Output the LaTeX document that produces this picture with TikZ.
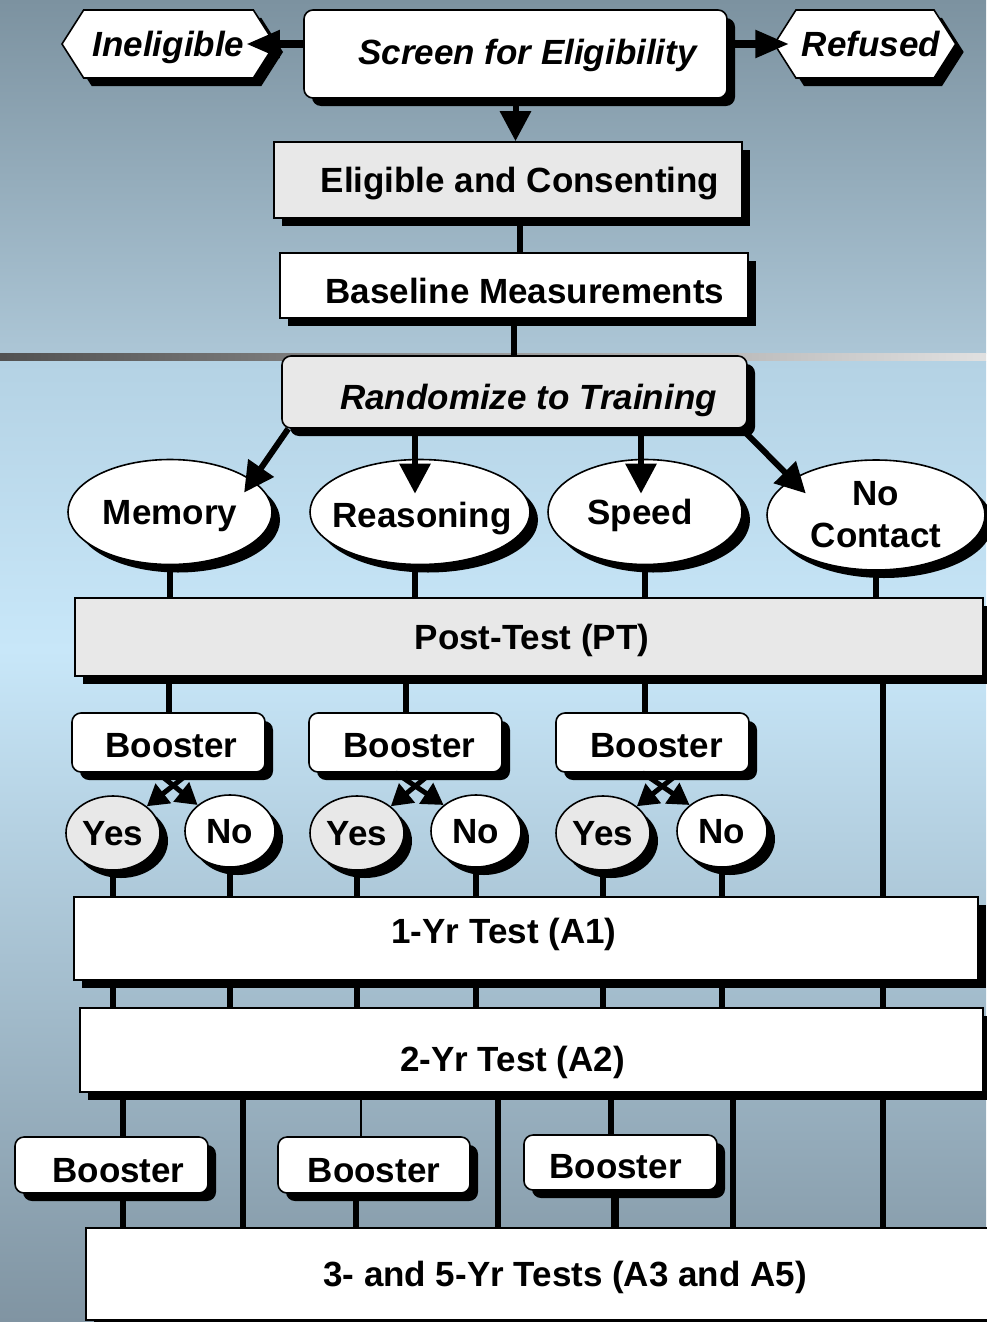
\documentclass[tikz,border=0pt]{standalone}
\usepackage{fontspec}
\setmainfont{Liberation Sans}
\usetikzlibrary{arrows.meta,shapes.geometric,shapes.symbols,shadows}

\definecolor{topsky}{RGB}{124,146,160}
\definecolor{midsky}{RGB}{172,198,214}
\definecolor{lowsky}{RGB}{180,210,228}
\definecolor{palesky}{RGB}{200,231,249}
\definecolor{dusk}{RGB}{172,200,218}
\definecolor{slate}{RGB}{128,148,162}
\definecolor{boxgray}{RGB}{232,232,232}

% move a label inside its box: x shift, raise, text
\newcommand{\txtshift}[3]{\raisebox{#2}{\hspace*{#1}#3\hspace*{-#1}}}

\tikzset{
  shad/.style={drop shadow={shadow xshift=8pt,shadow yshift=-8pt,fill=black,opacity=1}},
  box/.style={draw,line width=1.6pt,fill=white,shad,inner sep=0pt,align=center,
    text height=30pt,text depth=5pt,font=\bfseries\fontsize{35}{42}\selectfont},
  ital/.style={font=\bfseries\itshape\fontsize{35}{42}\selectfont},
  rbox/.style={box,rounded corners=9pt},
  hexa/.style={box,shape=signal,signal to=west and east,signal pointer angle=115},
  oval/.style={box,ellipse,inner sep=-30pt},
  conn/.style={line width=6pt},
  arr/.style={conn,-{Triangle[length=30pt,width=30pt]}},
  smallarr/.style={line width=5pt,-{Triangle[length=21pt,width=24pt]}},
}

\begin{document}
\begin{tikzpicture}[x=1pt,y=-1pt]
%\draw[step=100,gray,very thin] (0,0) grid (986,1322);
\useasboundingbox (0,0) rectangle (986,1322);

% background
\shade[top color=topsky,bottom color=midsky] (0,0) rectangle (986,353);
\shade[left color=black!68,right color=black!12] (0,353) rectangle (986,361);
\shade[top color=lowsky,bottom color=palesky] (0,361) rectangle (986,650);
\shade[top color=palesky,middle color=dusk,bottom color=slate] (0,650) rectangle (986,1322);

% screening
\node[hexa,ital,minimum width=213pt,minimum height=68pt] (inel) at (168.5,44) {Ineligible};
\node[rbox,ital,minimum width=423pt,minimum height=88pt] (screen) at (515.5,54) {\txtshift{12pt}{2pt}{Screen for Eligibility}};
\node[hexa,ital,minimum width=160pt,minimum height=68pt] (refused) at (865,44) {\txtshift{6pt}{0pt}{Refused}};
\node[box,fill=boxgray,minimum width=468pt,minimum height=76pt] (elig) at (508,180) {\txtshift{12pt}{0pt}{Eligible and Consenting}};
\node[box,minimum width=468pt,minimum height=65pt] (base) at (514,285.5) {\txtshift{11pt}{-5pt}{Baseline Measurements}};
\node[rbox,ital,fill=boxgray,minimum width=465pt,minimum height=72pt] (rand) at (514.5,392) {\txtshift{14pt}{-5pt}{Randomize to Training}};

% training arms
\node[oval,minimum width=204pt,minimum height=105pt] (memory) at (170,512) {Memory};
\node[oval,minimum width=220pt,minimum height=105pt] (reason) at (420,512) {\txtshift{2pt}{-3pt}{Reasoning}};
\node[oval,minimum width=194pt,minimum height=105pt] (speed) at (645,512) {\txtshift{-5pt}{0pt}{Speed}};
\node[oval,text height=,text depth=,minimum width=218pt,minimum height=110pt] (nocont) at (876,515) {No\\Contact};

\node[box,fill=boxgray,minimum width=908pt,minimum height=78pt] (pt) at (529,637) {\txtshift{3pt}{0pt}{Post-Test (PT)}};

% boosters after post-test
\node[rbox,minimum width=193pt,minimum height=59pt] (bo1) at (168.5,742.5) {\txtshift{3pt}{-2pt}{Booster}};
\node[rbox,minimum width=193pt,minimum height=59pt] (bo2) at (405.5,742.5) {\txtshift{4pt}{-2pt}{Booster}};
\node[rbox,minimum width=193pt,minimum height=59pt] (bo3) at (652.5,742.5) {\txtshift{4pt}{-2pt}{Booster}};

\node[oval,fill=boxgray,minimum width=94pt,minimum height=74pt] (yes1) at (113,833) {Yes};
\node[oval,minimum width=90pt,minimum height=72pt] (no1) at (230,831) {No};
\node[oval,fill=boxgray,minimum width=94pt,minimum height=74pt] (yes2) at (357,833) {Yes};
\node[oval,minimum width=90pt,minimum height=72pt] (no2) at (476,831) {No};
\node[oval,fill=boxgray,minimum width=94pt,minimum height=74pt] (yes3) at (603,833) {Yes};
\node[oval,minimum width=90pt,minimum height=72pt] (no3) at (722,831) {No};

% follow-up tests
\node[box,minimum width=904pt,minimum height=83pt] (a1) at (526,938.5) {\txtshift{-22pt}{8pt}{1-Yr Test (A1)}};
\node[box,minimum width=903pt,minimum height=84pt] (a2) at (531.5,1050) {\txtshift{-19pt}{-9pt}{2-Yr Test (A2)}};

\node[rbox,minimum width=193pt,minimum height=56pt] (bb1) at (111.5,1165) {\txtshift{7pt}{-5pt}{Booster}};
\node[rbox,minimum width=192pt,minimum height=56pt] (bb2) at (374,1165) {\txtshift{0pt}{-5pt}{Booster}};
\node[rbox,minimum width=193pt,minimum height=55pt] (bb3) at (620.5,1162.5) {\txtshift{-5pt}{-3pt}{Booster}};

\node[box,minimum width=958pt,minimum height=92pt] (a35) at (565,1274) {3- and 5-Yr Tests (A3 and A5)};

% columns of the lower lines
\coordinate (nc) at (883,0);
\coordinate (c1) at (123,0);
\coordinate (c2) at (243,0);
\coordinate (c3) at (361,0);
\coordinate (c3b) at (356,0);
\coordinate (c4) at (498,0);
\coordinate (c5) at (611,0);
\coordinate (c5b) at (615,0);
\coordinate (c6) at (733,0);

% top connectors
\draw[line width=8pt,-{Triangle[length=34pt,width=26pt]},shorten >=-30pt] (screen.west |- inel.east) -- (inel.east);
\draw[line width=8pt,-{Triangle[length=34pt,width=26pt]},shorten >=-16pt] (screen.east |- refused.west) -- (refused.west);
\draw[arr] (screen.south) -- (screen.south |- elig.north);
\draw[conn] ([xshift=12pt]elig.south) -- ([xshift=12pt]elig.south |- base.north);
\draw[conn] (base.south) -- (base.south |- rand.north);

\draw[arr,shorten >=-15pt] ([xshift=7pt]rand.south west) -- (memory.21);
\draw[arr,shorten >=-35pt] ([xshift=-5pt]rand.south -| reason.north) -- ([xshift=-5pt]reason.north);
\draw[arr,shorten >=-35pt] ([xshift=-4pt]rand.south -| speed.north) -- ([xshift=-4pt]speed.north);
\draw[arr,shorten >=-20pt] ([xshift=-6pt]rand.south east) -- (nocont.157);

\draw[conn] (memory.south) -- (memory.south |- pt.north);
\draw[conn] ([xshift=-5pt]reason.south) -- ([xshift=-5pt]reason.south |- pt.north);
\draw[conn] (speed.south) -- (speed.south |- pt.north);
\draw[conn] (nocont.south) -- (nocont.south |- pt.north);

\draw[conn] (pt.south -| bo1.north) -- (bo1.north);
\draw[conn] (pt.south -| bo2.north) -- (bo2.north);
\draw[conn] (pt.south -| speed.south) -- (speed.south |- bo3.north);
\draw[conn] (pt.south -| nc) -- (a1.north -| nc);

\draw[smallarr] ([xshift=21pt]bo1.south) -- (yes1.north east);
\draw[smallarr] ([xshift=-11pt]bo1.south) -- (no1.north west);
\draw[smallarr] ([xshift=26pt]bo2.south) -- (yes2.north east);
\draw[smallarr] ([xshift=-10pt]bo2.south) -- (no2.north west);
\draw[smallarr] ([xshift=27pt]bo3.south) -- (yes3.north east);
\draw[smallarr] ([xshift=-10pt]bo3.south) -- (no3.north west);

\draw[conn] (yes1.south) -- (yes1.south |- a1.north);
\draw[conn] (no1.south) -- (no1.south |- a1.north);
\draw[conn] (yes2.south) -- (yes2.south |- a1.north);
\draw[conn] (no2.south) -- (no2.south |- a1.north);
\draw[conn] (yes3.south) -- (yes3.south |- a1.north);
\draw[conn] (no3.south) -- (no3.south |- a1.north);

\draw[conn] (a1.south -| yes1) -- (a2.north -| yes1);
\draw[conn] (a1.south -| no1) -- (a2.north -| no1);
\draw[conn] (a1.south -| yes2) -- (a2.north -| yes2);
\draw[conn] (a1.south -| no2) -- (a2.north -| no2);
\draw[conn] (a1.south -| yes3) -- (a2.north -| yes3);
\draw[conn] (a1.south -| no3) -- (a2.north -| no3);
\draw[conn] (a1.south -| nc) -- (a2.north -| nc);

\draw[conn] (a2.south -| c1) -- (bb1.north -| c1);
\draw[conn] (bb1.south -| c1) -- (a35.north -| c1);
\draw[conn] (a2.south -| c2) -- (a35.north -| c2);
\draw[line width=2pt] (a2.south -| c3) -- (bb2.north -| c3);
\draw[conn] (bb2.south -| c3b) -- (a35.north -| c3b);
\draw[conn] (a2.south -| c4) -- (a35.north -| c4);
\draw[conn] (a2.south -| c5) -- (bb3.north -| c5);
\draw[line width=8pt] (bb3.south -| c5b) -- (a35.north -| c5b);
\draw[conn] (a2.south -| c6) -- (a35.north -| c6);
\draw[conn] (a2.south -| nc) -- (a35.north -| nc);

\end{tikzpicture}
\end{document}
